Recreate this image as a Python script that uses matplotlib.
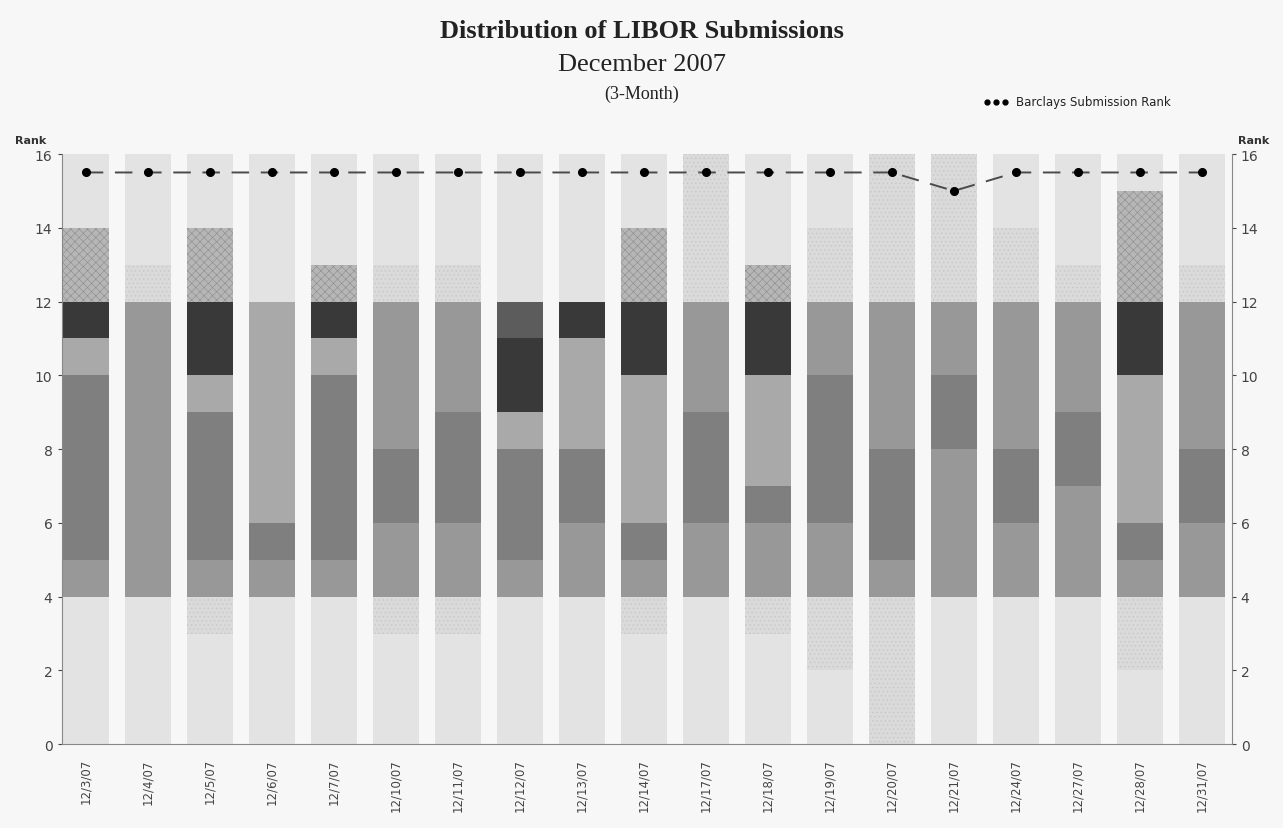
import matplotlib
matplotlib.use('Agg')
import matplotlib.pyplot as plt

# dates on the x axis
dates = ['12/3/07', '12/4/07', '12/5/07', '12/6/07', '12/7/07', '12/10/07', '12/11/07',
         '12/12/07', '12/13/07', '12/14/07', '12/17/07', '12/18/07', '12/19/07', '12/20/07',
         '12/21/07', '12/24/07', '12/27/07', '12/28/07', '12/31/07']

# segment boundaries (rank) for each bar, bottom to top
bounds = [
    [0, 4, 5, 10, 11, 12, 14, 16],
    [0, 4, 12, 13, 16],
    [0, 3, 4, 5, 9, 10, 12, 14, 16],
    [0, 4, 5, 6, 12, 13, 16],
    [0, 4, 5, 10, 11, 12, 13, 16],
    [0, 3, 4, 6, 8, 12, 13, 16],
    [0, 3, 4, 6, 9, 12, 13, 16],
    [0, 4, 5, 8, 9, 11, 12, 16],
    [0, 4, 6, 8, 11, 12, 16],
    [0, 3, 4, 5, 6, 10, 12, 14, 16],
    [0, 4, 6, 9, 12, 16],
    [0, 3, 4, 6, 7, 10, 12, 13, 16],
    [0, 2, 4, 6, 10, 12, 14, 16],
    [0, 4, 5, 8, 12, 16],
    [0, 4, 8, 10, 12, 16],
    [0, 4, 6, 8, 12, 14, 16],
    [0, 4, 7, 9, 12, 13, 16],
    [0, 2, 4, 5, 6, 10, 12, 15, 16],
    [0, 4, 6, 8, 12, 13, 16],
]

# shade code for each segment
# L light, H light hatched, M medium hatched, G grey, P pale grey, D dark grey, S slate, K near black
shades = [
    ['L', 'G', 'D', 'P', 'K', 'M', 'L'],
    ['L', 'G', 'H', 'L'],
    ['L', 'H', 'G', 'D', 'P', 'K', 'M', 'L'],
    ['L', 'G', 'D', 'P', 'L', 'L'],
    ['L', 'G', 'D', 'P', 'K', 'M', 'L'],
    ['L', 'H', 'G', 'D', 'G', 'H', 'L'],
    ['L', 'H', 'G', 'D', 'G', 'H', 'L'],
    ['L', 'G', 'D', 'P', 'K', 'S', 'L'],
    ['L', 'G', 'D', 'P', 'K', 'L'],
    ['L', 'H', 'G', 'D', 'P', 'K', 'M', 'L'],
    ['L', 'G', 'D', 'G', 'H'],
    ['L', 'H', 'G', 'D', 'P', 'K', 'M', 'L'],
    ['L', 'H', 'G', 'D', 'G', 'H', 'L'],
    ['H', 'G', 'D', 'G', 'H'],
    ['L', 'G', 'D', 'G', 'H'],
    ['L', 'G', 'D', 'G', 'H', 'L'],
    ['L', 'G', 'D', 'G', 'H', 'L'],
    ['L', 'H', 'G', 'D', 'P', 'K', 'M', 'L'],
    ['L', 'G', 'D', 'G', 'H', 'L'],
]

barclays_rank = [15.5, 15.5, 15.5, 15.5, 15.5, 15.5, 15.5, 15.5, 15.5, 15.5,
                 15.5, 15.5, 15.5, 15.5, 15.0, 15.5, 15.5, 15.5, 15.5]

colors = {'L': '#e3e3e3', 'H': '#dadada', 'M': '#b6b6b6', 'G': '#989898',
          'P': '#a9a9a9', 'D': '#7f7f7f', 'S': '#5c5c5c', 'K': '#393939'}
hatches = {'H': '....', 'M': 'xxxx'}
hatch_edges = {'H': '#c4c4c4', 'M': '#8c8c8c'}

plt.rcParams['hatch.linewidth'] = 0.4
fig = plt.figure(figsize=(12.83, 8.29), dpi=100, facecolor='#f7f7f7')
ax = fig.add_axes([0.048, 0.101, 0.912, 0.712])
ax.set_facecolor('#f7f7f7')

for i, (b, s) in enumerate(zip(bounds, shades)):
    for j, code in enumerate(s):
        ax.bar(i, b[j + 1] - b[j], bottom=b[j], width=0.74, color=colors[code],
               hatch=hatches.get(code), edgecolor=hatch_edges.get(code, colors[code]),
               linewidth=0)

x = range(len(dates))
ax.plot(x, barclays_rank, color='#4a4a4a', linestyle=(0, (9, 6)), linewidth=1.4, zorder=3)
ax.plot(x, barclays_rank, 'o', color='black', markersize=5.5, zorder=4)

ax.set_xlim(-0.39, 18.48)
ax.set_ylim(0, 16)
ax.set_yticks(range(0, 17, 2))
ax.set_xticks(list(x))
ax.set_xticklabels(dates, rotation=90, fontsize=8.5, color='#444444')
ax.tick_params(axis='y', labelsize=10, colors='#444444', length=3, labelright=True, right=True)
ax.tick_params(axis='x', length=0, pad=10)
for sp in ['left', 'right', 'bottom']:
    ax.spines[sp].set_color('#888888')
ax.spines['top'].set_visible(False)

fig.text(0.012, 0.826, 'Rank', fontsize=8, fontweight='bold', color='#333333')
fig.text(0.965, 0.826, 'Rank', fontsize=8, fontweight='bold', color='#333333')

fig.text(0.5, 0.962, 'Distribution of LIBOR Submissions', ha='center', va='center',
         family='Liberation Serif', fontsize=19, fontweight='bold', color='#222222')
fig.text(0.5, 0.922, 'December 2007', ha='center', va='center',
         family='Liberation Serif', fontsize=19, color='#222222')
fig.text(0.5, 0.886, '(3-Month)', ha='center', va='center',
         family='Liberation Serif', fontsize=13, color='#222222')

# legend: three dots then label
ax.plot([0.769, 0.776, 0.783], [0.876, 0.876, 0.876], 'o', transform=fig.transFigure,
        color='black', markersize=3.5, clip_on=False)
fig.text(0.792, 0.876, 'Barclays Submission Rank', ha='left', va='center',
         fontsize=8.5, color='#222222')

plt.savefig('out.png', dpi=100, facecolor=fig.get_facecolor())
